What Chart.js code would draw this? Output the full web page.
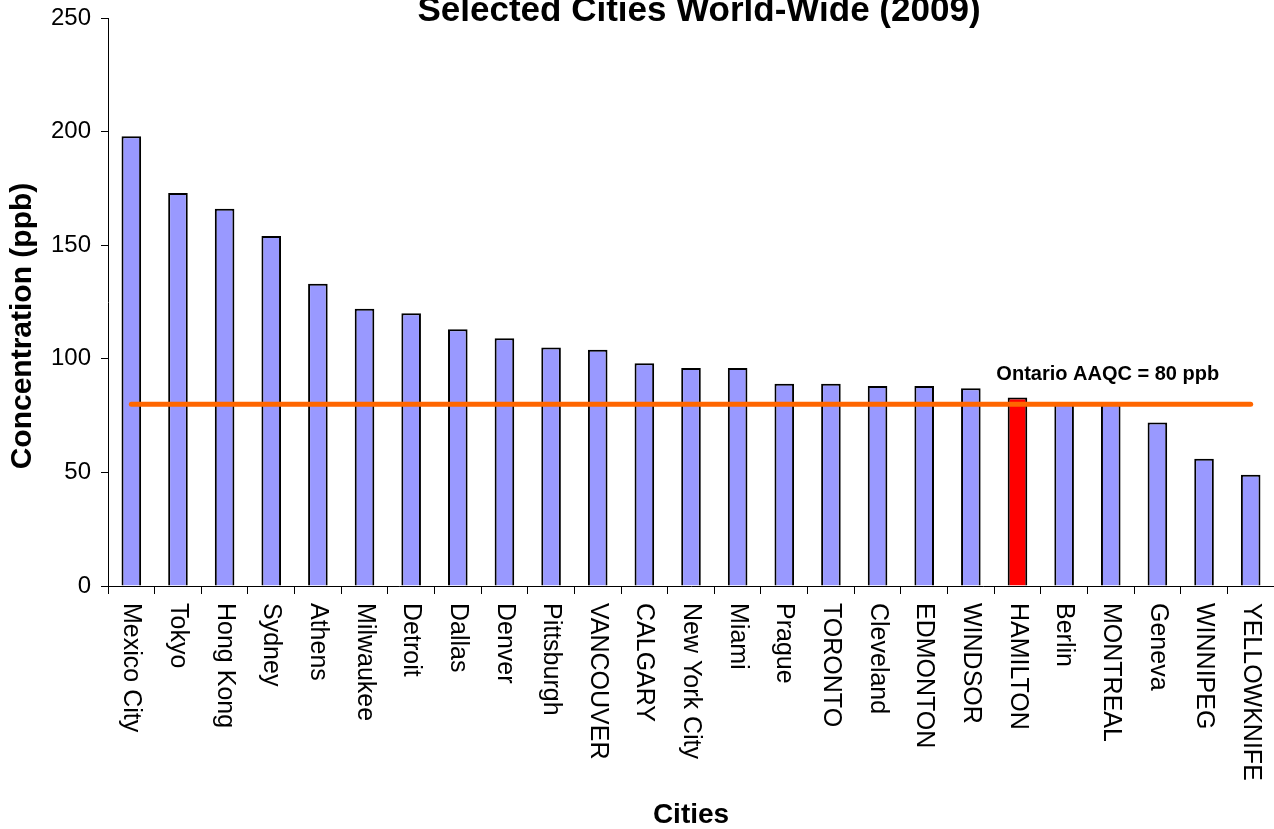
<!DOCTYPE html>
<html>
<head>
<meta charset="utf-8">
<script src="https://cdn.jsdelivr.net/npm/chart.js@4.4.0/dist/chart.umd.min.js"></script>
<style>
  html, body { margin: 0; padding: 0; background: #fff; }
  #wrap { width: 1274px; height: 829px; }
</style>
</head>
<body>
<div id="wrap"><canvas id="ozone"></canvas></div>
<script>
// values
const cities = ['Mexico City', 'Tokyo', 'Hong Kong', 'Sydney', 'Athens', 'Milwaukee', 'Detroit',
  'Dallas', 'Denver', 'Pittsburgh', 'VANCOUVER', 'CALGARY', 'New York City', 'Miami', 'Prague',
  'TORONTO', 'Cleveland', 'EDMONTON', 'WINDSOR', 'HAMILTON', 'Berlin', 'MONTREAL', 'Geneva',
  'WINNIPEG', 'YELLOWKNIFE'];
const concentration = [198, 173, 166, 154, 133, 122, 120, 113, 109, 105, 104, 98, 96, 96, 89,
  89, 88, 88, 87, 83, 81, 80, 72, 56, 49];
const aaqcLimit = 80;
const highlightCity = 'HAMILTON';
const yTicks = [0, 50, 100, 150, 200, 250];

const chartTitle = 'Selected Cities World-Wide (2009)';
const yTitle = 'Concentration (ppb)';
const xTitle = 'Cities';
const limitLabel = 'Ontario AAQC = 80 ppb';

const FONT = '"Liberation Sans", Arial, sans-serif';

const barColors = cities.map(c => c === highlightCity ? '#FF0000' : '#9999FF');

// draws the texts the way the original spreadsheet chart has them
const textPlugin = {
  id: 'texts',
  afterDraw(chart) {
    const ctx = chart.ctx;
    const area = chart.chartArea;
    const x = chart.scales.x;
    const y = chart.scales.y;
    ctx.save();
    ctx.fillStyle = '#000';

    // title, clipped at the top like the original
    ctx.font = 'bold 35px ' + FONT;
    ctx.textAlign = 'center';
    ctx.textBaseline = 'alphabetic';
    ctx.fillText(chartTitle, (area.left + area.right) / 2 + 8, 21);

    // rotated category labels, reading top to bottom
    ctx.font = '25px ' + FONT;
    ctx.textAlign = 'left';
    ctx.textBaseline = 'middle';
    cities.forEach((c, i) => {
      ctx.save();
      ctx.translate(x.getPixelForValue(i), area.bottom + 17);
      ctx.rotate(Math.PI / 2);
      ctx.fillText(c, 0, 0);
      ctx.restore();
    });

    // axis titles
    ctx.font = 'bold 28px ' + FONT;
    ctx.textAlign = 'center';
    ctx.fillText(xTitle, (area.left + area.right) / 2, 815);
    ctx.font = 'bold 30px ' + FONT;
    ctx.save();
    ctx.translate(23, 326);
    ctx.rotate(-Math.PI / 2);
    ctx.fillText(yTitle, 0, 0);
    ctx.restore();

    // limit label
    ctx.font = 'bold 20px ' + FONT;
    ctx.fillText(limitLabel, x.getPixelForValue(21) - 3, y.getPixelForValue(93));
    ctx.restore();
  }
};

new Chart(document.getElementById('ozone'), {
  type: 'bar',
  data: {
    labels: cities,
    datasets: [
      {
        type: 'line',
        label: 'Ontario AAQC',
        data: cities.map(() => aaqcLimit),
        borderColor: '#FF6600',
        borderWidth: 5,
        borderCapStyle: 'round',
        pointRadius: 0,
        fill: false,
        order: 0
      },
      {
        label: 'Concentration',
        data: concentration,
        backgroundColor: barColors,
        borderColor: '#000',
        borderWidth: 2,
        borderSkipped: 'bottom',
        barPercentage: 0.42,
        categoryPercentage: 1,
        order: 1
      }
    ]
  },
  options: {
    responsive: true,
    maintainAspectRatio: false,
    animation: false,
    layout: { padding: { top: 18, left: 0, right: 0, bottom: 0 } },
    plugins: {
      legend: { display: false },
      tooltip: { enabled: false }
    },
    scales: {
      x: {
        grid: { display: true, drawOnChartArea: false, drawTicks: true, tickLength: 8, color: '#000', offset: true },
        border: { display: true, color: '#000', width: 1 },
        ticks: { display: false },
        afterFit: s => { s.height = 243; s.paddingLeft = 0; s.paddingRight = 0; }
      },
      y: {
        min: 0,
        max: 250,
        afterBuildTicks: s => { s.ticks = yTicks.map(v => ({ value: v })); },
        grid: { display: true, drawOnChartArea: false, drawTicks: true, tickLength: 7, color: '#000' },
        border: { display: true, color: '#000', width: 1 },
        ticks: { color: '#000', padding: 10, font: { family: FONT, size: 24 } },
        afterFit: s => { s.width = 108; s.paddingTop = 0; s.paddingBottom = 0; }
      }
    }
  },
  plugins: [textPlugin]
});
</script>
</body>
</html>
